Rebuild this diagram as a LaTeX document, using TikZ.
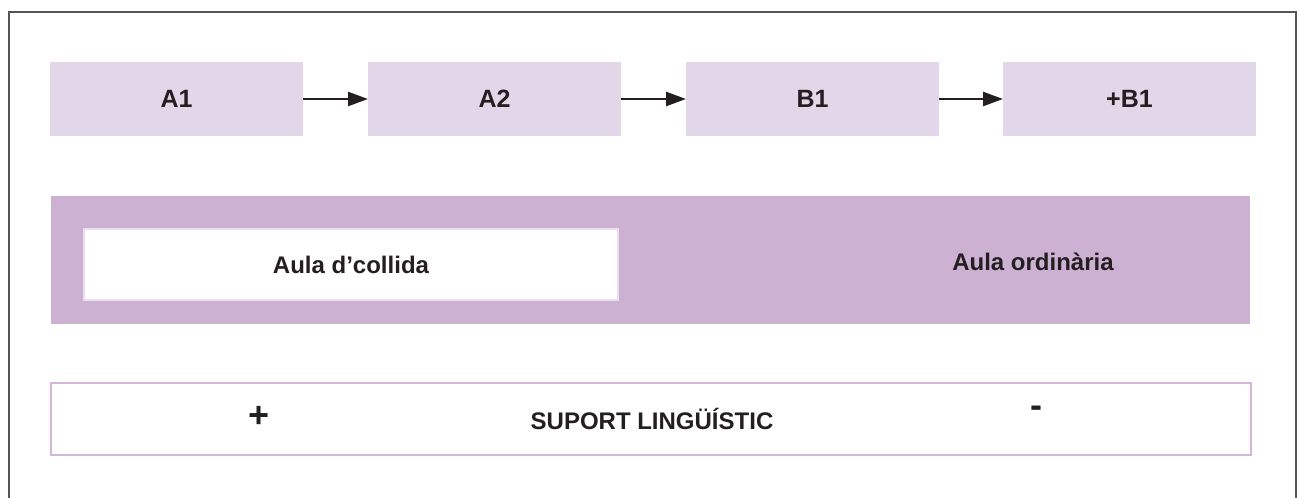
\documentclass[tikz,border=0pt]{standalone}
\usepackage{fontspec}
\setmainfont{Liberation Sans}
\usetikzlibrary{arrows.meta}
\definecolor{lightlav}{HTML}{E2D6E9}
\definecolor{bandlav}{HTML}{CDB1D3}
\definecolor{edgelav}{HTML}{D2B6DC}
\definecolor{paleedge}{HTML}{E9DFEF}
\definecolor{framegray}{HTML}{555555}
\definecolor{ink}{HTML}{231F20}
\begin{document}
\begin{tikzpicture}[x=1pt,y=-1pt,
  lbl/.style={font=\fontsize{24}{28}\selectfont\bfseries, text=ink, inner sep=0pt, outer sep=0pt},
  levelbox/.style={lbl, font=\fontsize{25}{29}\selectfont\bfseries, fill=lightlav, draw=none, minimum width=253pt, minimum height=74pt},
  flow/.style={-{Triangle[length=20pt,width=14pt]}, line width=2.5pt, draw=ink},
  bandbox/.style={fill=bandlav, draw=none, minimum width=1199pt, minimum height=128pt, inner sep=0pt, outer sep=0pt},
  whitebox/.style={lbl, fill=white, draw=paleedge, line width=2.5pt, minimum width=534pt, minimum height=71pt},
  supportbox/.style={fill=white, draw=edgelav, line width=2.5pt, minimum width=1200pt, minimum height=72pt, inner sep=0pt, outer sep=0pt}]
\useasboundingbox (0,0) rectangle (1299,498);
\fill[white] (0,0) rectangle (1299,498);
% outer frame (open at bottom)
\draw[framegray, line width=1.5pt] (9,498) -- (9,12) -- (1296,12) -- (1296,498);
% level boxes
\node[levelbox] (a1) at (176.5,99) {A1};
\node[levelbox] (a2) at (494.5,99) {A2};
\node[levelbox] (b1) at (812.5,99) {B1};
\node[levelbox] (pb1) at (1129.5,99) {+B1};
\draw[flow] (a1) -- (a2);
\draw[flow] (a2) -- (b1);
\draw[flow] (b1) -- (pb1);
% classroom band
\node[bandbox] (band) at (650,260) {};
\node[whitebox] (acollida) at (351,264.5) {Aula d’collida};
\node[lbl] (ordinaria) at (1033,262) {Aula ordinària};
% support bar
\node[supportbox] (suport) at (651,419) {};
\node[lbl, font=\fontsize{36}{40}\selectfont\bfseries] (mes) at (259,417) {+};
\node[lbl, font=\fontsize{24}{28}\selectfont\bfseries] (suptext) at (652,419) {SUPORT LINGÜÍSTIC};
\node[lbl, font=\fontsize{36}{40}\selectfont\bfseries] (menys) at (1036,412) {-};
\end{tikzpicture}
\end{document}
